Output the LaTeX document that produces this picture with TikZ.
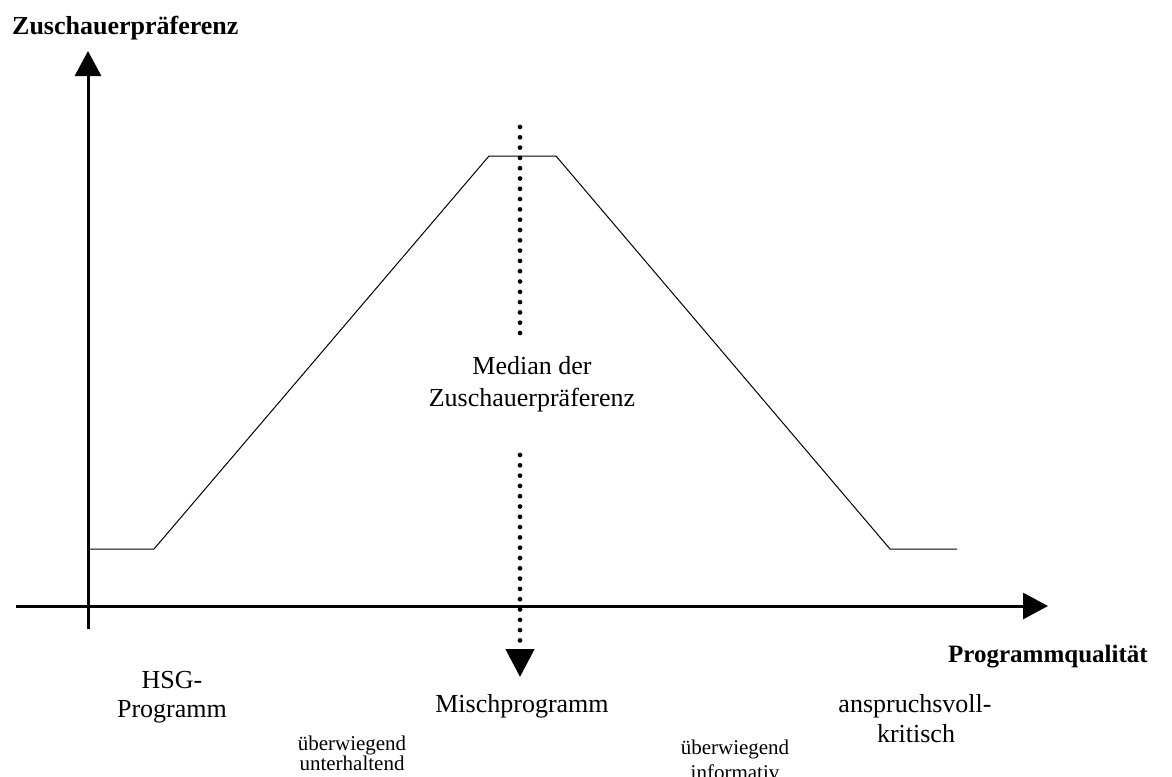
\documentclass[tikz,border=0pt]{standalone}
\usepackage{fontspec}
\setmainfont{Liberation Serif}
\usetikzlibrary{arrows.meta}
\begin{document}
\begin{tikzpicture}[x=1pt,y=-1pt,
  axis/.style={line width=3pt,-{Triangle[length=25pt,width=26pt]}},
  curve/.style={line width=1pt,line join=miter},
  median/.style={line width=4.7pt,line cap=round,dash pattern=on 0pt off 10.3pt},
  mediantip/.style={-{Triangle[length=28pt,width=28pt]}},
  lbl/.style={inner sep=0pt,anchor=base,font=\fontsize{26}{30}\selectfont},
  small/.style={inner sep=0pt,anchor=base,font=\fontsize{21}{24}\selectfont},
  axislabel/.style={inner sep=0pt,anchor=base west,font=\fontsize{26}{30}\selectfont\bfseries}]
\useasboundingbox (0,0) rectangle (1172,776);

% axes
\coordinate (yfoot) at (88,629);
\coordinate (ytip)  at (88,51);
\coordinate (xfoot) at (16,606);
\coordinate (xtip)  at (1048,606);
\draw[axis] (yfoot) -- (ytip);
\draw[axis] (xfoot) -- (xtip);

% preference curve
\coordinate (c0) at (88,549);
\coordinate (c1) at (154,549);
\coordinate (c2) at (489,156);
\coordinate (c3) at (556,156);
\coordinate (c4) at (890,549);
\coordinate (c5) at (957,549);
\draw[curve] (c0) -- (c1) -- (c2) -- (c3) -- (c4) -- (c5);

% median line
\coordinate (m0) at (520,127);
\coordinate (m1) at (520,340);
\coordinate (m2) at (520,455);
\coordinate (m3) at (520,677);
\draw[median] (m0) -- (m1);
\draw[median,mediantip] (m2) -- (m3);

% axis labels
\node[axislabel] (ylab) at (12,35) {Zuschauerpräferenz};
\node[axislabel,font=\fontsize{25}{30}\selectfont\bfseries] (xlab) at (948,662) {Programmqualität};

% median label
\node[lbl] (med1) at (532,374) {Median der};
\node[lbl] (med2) at (532,406) {Zuschauerpräferenz};

% programme types
\node[lbl] (hsg1) at (172,688) {HSG-};
\node[lbl] (hsg2) at (172,717) {Programm};
\node[lbl] (misch) at (522,712) {Mischprogramm};
\node[lbl] (ansp1) at (915,712) {anspruchsvoll-};
\node[lbl] (ansp2) at (916,742) {kritisch};

\node[small] (unt1) at (352,750) {überwiegend};
\node[small] (unt2) at (352,770) {unterhaltend};
\node[small] (inf1) at (735,754) {überwiegend};
\node[small] (inf2) at (735,779) {informativ};
\end{tikzpicture}
\end{document}
